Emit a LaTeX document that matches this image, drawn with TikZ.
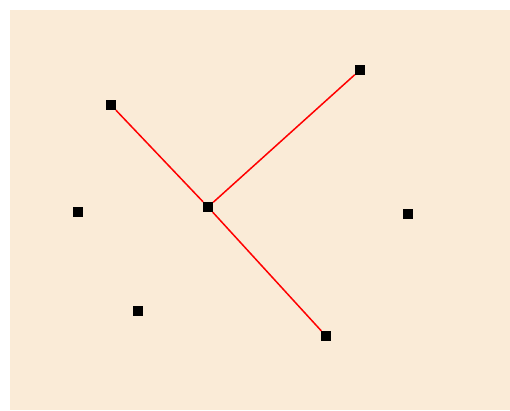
\documentclass[tikz,border=0pt]{standalone}
\usetikzlibrary{positioning}

\definecolor{linen}{RGB}{250,235,215}

\begin{document}
\begin{tikzpicture}[
  x=1pt,y=-1pt,
  pt/.style={fill=black,inner sep=0pt,minimum size=10pt,draw=none},
  edge/.style={red,line width=1.5pt}
]
\useasboundingbox (0,0) rectangle (510,410);
\fill[linen] (10,10) rectangle (510,410);

% points
\node[pt] (hub) at (208,207) {};
\node[pt] (p1) at (111,105) {};
\node[pt] (p2) at (360,70) {};
\node[pt] (p3) at (326,336) {};
\node[pt] (p4) at (78,212) {};
\node[pt] (p5) at (408,214) {};
\node[pt] (p6) at (138,311) {};

% connections to the hub
\draw[edge] (p1) -- (hub);
\draw[edge] (p2) -- (hub);
\draw[edge] (p3) -- (hub);
\end{tikzpicture}
\end{document}
